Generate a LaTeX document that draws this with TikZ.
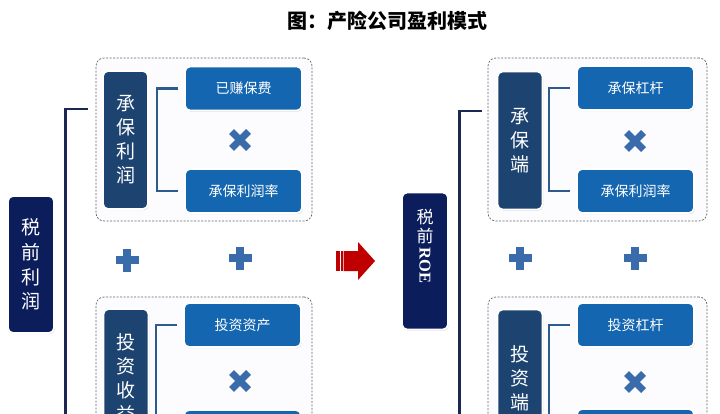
\documentclass[tikz,border=0pt]{standalone}
\usepackage{fontspec}
\newfontfamily\cjk{Noto Sans CJK SC}
\newfontfamily\romanb{Liberation Serif}
\usetikzlibrary{shadows}
\definecolor{navy}{HTML}{0C1D5C}
\definecolor{steel}{HTML}{1D4470}
\definecolor{midblue}{HTML}{1566B0}
\definecolor{signblue}{HTML}{3A6BAA}
\definecolor{brblue}{HTML}{2D5C8C}
\definecolor{outerbr}{HTML}{1C2752}
\definecolor{arrowred}{HTML}{C00000}
\begin{document}
\begin{tikzpicture}[x=1pt,y=-1pt,
  boxbase/.style={rounded corners=5pt, draw=white, line width=1.8pt, text=white, inner sep=0pt, align=center,
    drop shadow={shadow xshift=0.8pt, shadow yshift=-1.2pt, opacity=0.3}},
  taxbox/.style={boxbase, fill=navy, minimum width=46pt, minimum height=137pt, font=\cjk\fontsize{19}{24.5}\selectfont},
  vbox/.style={boxbase, fill=steel, minimum width=45pt, minimum height=138pt, font=\cjk\fontsize{19}{24}\selectfont},
  hbox/.style={boxbase, fill=midblue, minimum width=117pt, minimum height=44pt, font=\cjk\fontsize{14}{16}\selectfont},
  dashbox/.style={draw=black!60, dash pattern=on 2pt off 1.5pt, line width=0.7pt, rounded corners=8pt,
    minimum width=216pt, minimum height=163pt, fill=blue!1},
  roetext/.style={text=white, inner sep=0pt, font=\cjk\fontsize{17}{17}\selectfont},
  inbr/.style={draw=brblue, line width=2.2pt},
  outbr/.style={draw=outerbr, line width=2.8pt},
  plusmark/.pic={\fill[signblue] (-11.5,-4) rectangle (11.5,4); \fill[signblue] (-4,-11.5) rectangle (4,11.5);},
  timesmark/.pic={\draw[signblue, line width=7pt] (-8.5,-8.5) -- (8.5,8.5) (-8.5,8.5) -- (8.5,-8.5);}
]
\clip (0,0) rectangle (720,414);
\fill[white] (0,0) rectangle (720,414);

% title
\node[font=\cjk\bfseries\fontsize{20}{24}\selectfont] (title) at (387,21) {图：产险公司盈利模式};

% ---------- left ----------
\node[taxbox] (taxL) at (31,264.5) {税\\前\\利\\润};
\node[dashbox] (dbLU) at (204,139.5) {};
\node[dashbox] (dbLD) at (204,378.5) {};
\node[vbox] (uwL) at (125.5,140) {承\\保\\利\\润};
\node[hbox] (epL) at (243.5,88.5) {已赚保费};
\node[hbox] (umL) at (243.5,191) {承保利润率};
\pic at (240,140) {timesmark};
\pic at (127,260) {plusmark};
\pic at (240,258) {plusmark};
\node[vbox] (ivL) at (126,378) {投\\资\\收\\益};
\node[hbox] (iaL) at (242.5,325) {投资资产};
\pic at (240,381) {timesmark};
\node[hbox] (irL) at (242.5,432) {};
\draw[inbr] ([xshift=-6pt]epL.west) -- ++(-21,0) |- ([xshift=-6pt]umL.west);
\draw[inbr] ([xshift=-6pt]iaL.west) -- ++(-21,0) |- ([xshift=-6pt]irL.west);
\draw[outbr] ([xshift=-8pt,yshift=30.5pt]dbLU.west) -- ++(-22,0) -- ++(0,400);

% ---------- arrow ----------
\fill[arrowred] (343.5,251) -- (358,251) -- (358,242) -- (375,261) -- (358,280) -- (358,271) -- (343.5,271) -- cycle;
\fill[arrowred] (336,251) rectangle (339.5,271);
\fill[arrowred] (340.5,251) rectangle (342.5,271);

% ---------- right ----------
\node[taxbox] (taxR) at (425,261) {};
\node[roetext] (taxRa) at (425,217) {税};
\node[roetext] (taxRb) at (425,236) {前};
\node[roetext, rotate=-90, font=\romanb\bfseries\fontsize{16.5}{16.5}\selectfont] (taxRc) at (425,265.5) {ROE};
\node[dashbox, minimum width=219pt] (dbRU) at (597.5,139.5) {};
\node[dashbox, minimum width=219pt] (dbRD) at (597.5,378.5) {};
\node[vbox] (uwR) at (520,140.5) {承\\保\\端};
\node[hbox] (ulR) at (635.5,88) {承保杠杆};
\node[hbox] (umR) at (635.5,191) {承保利润率};
\pic at (635,141) {timesmark};
\pic at (520,258) {plusmark};
\pic at (635,258) {plusmark};
\node[vbox] (ivR) at (520,378.5) {投\\资\\端};
\node[hbox] (ilR) at (635.5,325) {投资杠杆};
\pic at (635,382) {timesmark};
\node[hbox] (irR) at (635.5,431) {};
\draw[inbr] ([xshift=-6pt]ulR.west) -- ++(-21,0) |- ([xshift=-6pt]umR.west);
\draw[inbr] ([xshift=-6pt]ilR.west) -- ++(-21,0) |- ([xshift=-6pt]irR.west);
\draw[outbr] ([xshift=-6pt,yshift=28.5pt]dbRU.west) -- ++(-22,0) -- ++(0,400);
\end{tikzpicture}
\end{document}
